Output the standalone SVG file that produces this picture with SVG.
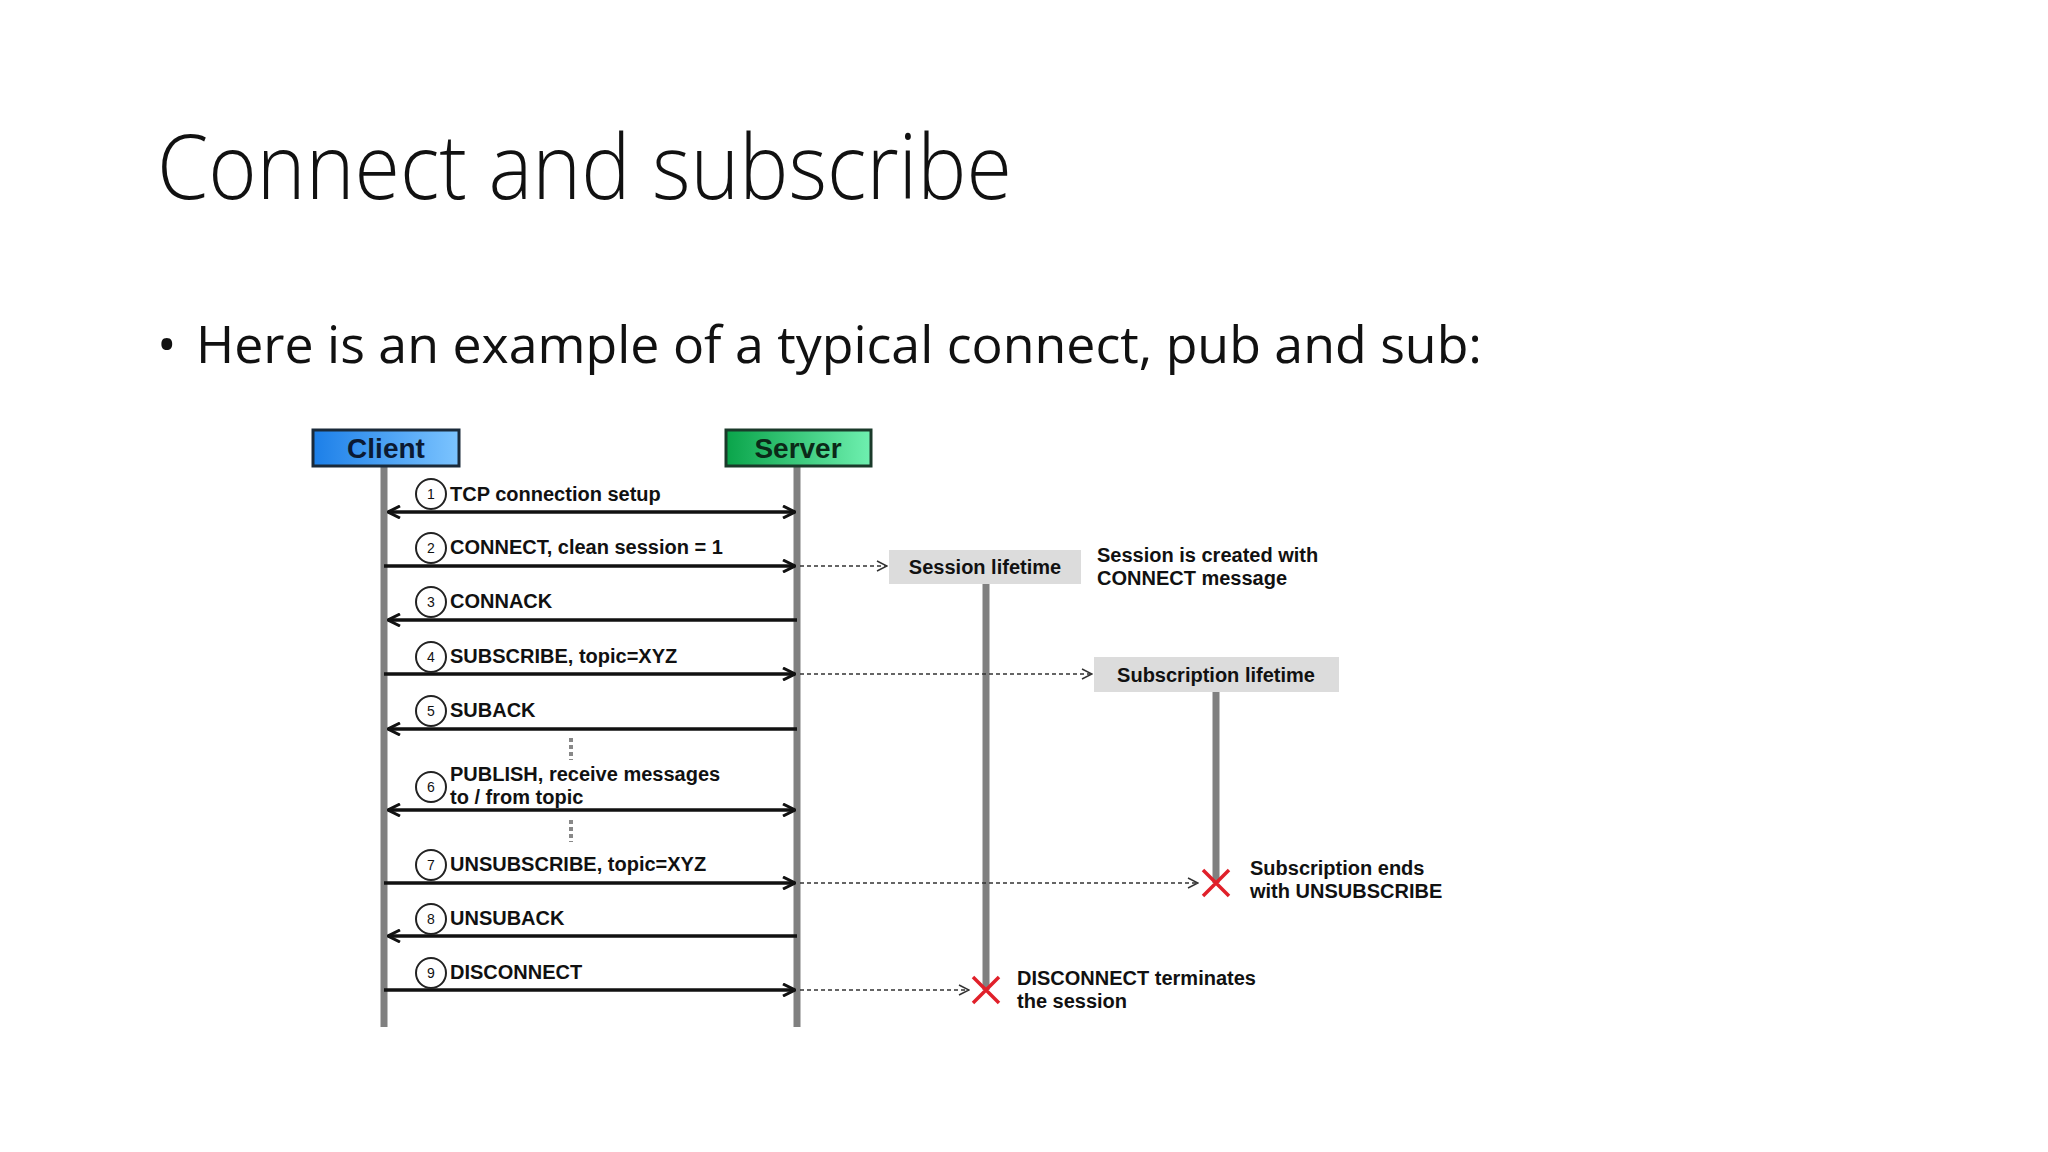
<svg xmlns="http://www.w3.org/2000/svg" width="2048" height="1152" viewBox="0 0 2048 1152">
<style>
.t{font-family:"Liberation Sans",Arial,sans-serif;font-weight:bold;font-size:20px;fill:#111}
.n{font-family:"Liberation Sans",Arial,sans-serif;font-size:14px;fill:#111;text-anchor:middle}
.msg{stroke:#111;stroke-width:3.5;fill:none}
.dash{stroke:#333;stroke-width:1.5;stroke-dasharray:4 3;fill:none}
.life{stroke:#808080;stroke-width:7}
.cir{fill:#fff;stroke:#222;stroke-width:2}
.x{stroke:#e0202a;stroke-width:3.5}
</style>
<defs>
<marker id="a" viewBox="0 0 14 14" refX="13" refY="7" markerWidth="14" markerHeight="14" markerUnits="userSpaceOnUse" orient="auto-start-reverse"><path d="M1,1 L13,7 L1,13" fill="none" stroke="#111" stroke-width="3"/></marker>
<marker id="d" viewBox="0 0 12 12" refX="11" refY="6" markerWidth="12" markerHeight="12" markerUnits="userSpaceOnUse" orient="auto"><path d="M1,1 L11,6 L1,11" fill="none" stroke="#333" stroke-width="1.5"/></marker>
<linearGradient id="gb" x1="0" x2="1"><stop offset="0" stop-color="#1c7fe8"/><stop offset="1" stop-color="#7cc4ff"/></linearGradient>
<linearGradient id="gg" x1="0" x2="1"><stop offset="0" stop-color="#0aa44a"/><stop offset="1" stop-color="#6ff0b0"/></linearGradient>
</defs>
<rect width="2048" height="1152" fill="#fff"/>
<text x="157" y="199" font-family="'Open Sans',sans-serif" font-weight="300" font-size="90" fill="#111" textLength="855" lengthAdjust="spacingAndGlyphs">Connect and subscribe</text>
<text x="157" y="363" font-family="'Open Sans',sans-serif" font-size="52" fill="#111">•</text>
<text x="196" y="363" font-family="'Open Sans',sans-serif" font-size="52" fill="#111" textLength="1286" lengthAdjust="spacingAndGlyphs">Here is an example of a typical connect, pub and sub:</text>

<g id="lifelines">
<line class="life" x1="384" y1="466" x2="384" y2="1027"/>
<line class="life" x1="797" y1="466" x2="797" y2="1027"/>
<line class="life" x1="986" y1="584" x2="986" y2="990"/>
<line class="life" x1="1216" y1="692" x2="1216" y2="883"/>
</g>
<g id="client"><rect x="313" y="430" width="146" height="36" fill="url(#gb)" stroke="#1a2a3a" stroke-width="3"/><text x="386" y="458" text-anchor="middle" font-family="'Liberation Sans',Arial,sans-serif" font-weight="bold" font-size="28" fill="#0b1a33">Client</text></g>
<g id="server"><rect x="726" y="430" width="145" height="36" fill="url(#gg)" stroke="#1a3a2a" stroke-width="3"/><text x="798" y="458" text-anchor="middle" font-family="'Liberation Sans',Arial,sans-serif" font-weight="bold" font-size="28" fill="#0b2a18">Server</text></g>
<g id="session"><rect x="889" y="550" width="192" height="34" fill="#dcdcdc"/><text class="t" x="985" y="574" text-anchor="middle">Session lifetime</text></g>
<g id="subscription"><rect x="1094" y="657" width="245" height="35" fill="#dcdcdc"/><text class="t" x="1216" y="682" text-anchor="middle">Subscription lifetime</text></g>
<g id="ends">
<path class="x" d="M1203,870 L1229,896 M1229,870 L1203,896"/>
<path class="x" d="M973,977 L999,1003 M999,977 L973,1003"/>
</g>
<g id="notes">
<text class="t" x="1097" y="562">Session is created with</text>
<text class="t" x="1097" y="585">CONNECT message</text>
<text class="t" x="1250" y="875">Subscription ends</text>
<text class="t" x="1250" y="898">with UNSUBSCRIBE</text>
<text class="t" x="1017" y="985">DISCONNECT terminates</text>
<text class="t" x="1017" y="1008">the session</text>
</g>
<g id="connectors">
<line class="msg" x1="388" y1="512" x2="795" y2="512" marker-start="url(#a)" marker-end="url(#a)"/>
<line class="msg" x1="384" y1="566" x2="795" y2="566" marker-end="url(#a)"/>
<line class="msg" x1="797" y1="620" x2="388" y2="620" marker-end="url(#a)"/>
<line class="msg" x1="384" y1="674" x2="795" y2="674" marker-end="url(#a)"/>
<line class="msg" x1="797" y1="729" x2="388" y2="729" marker-end="url(#a)"/>
<line class="msg" x1="388" y1="810" x2="795" y2="810" marker-start="url(#a)" marker-end="url(#a)"/>
<line class="msg" x1="384" y1="883" x2="795" y2="883" marker-end="url(#a)"/>
<line class="msg" x1="797" y1="936" x2="388" y2="936" marker-end="url(#a)"/>
<line class="msg" x1="384" y1="990" x2="795" y2="990" marker-end="url(#a)"/>
<line class="dash" x1="800" y1="566" x2="887" y2="566" marker-end="url(#d)"/>
<line class="dash" x1="800" y1="674" x2="1092" y2="674" marker-end="url(#d)"/>
<line class="dash" x1="800" y1="883" x2="1198" y2="883" marker-end="url(#d)"/>
<line class="dash" x1="800" y1="990" x2="969" y2="990" marker-end="url(#d)"/>
<line stroke="#888" stroke-width="4" stroke-dasharray="4 3" x1="571" y1="738" x2="571" y2="760"/>
<line stroke="#888" stroke-width="4" stroke-dasharray="4 3" x1="571" y1="820" x2="571" y2="842"/>
</g>
<g id="labels">
<circle class="cir" cx="431" cy="494" r="15"/><text class="n" x="431" y="499">1</text><text class="t" x="450" y="501">TCP connection setup</text>
<circle class="cir" cx="431" cy="548" r="15"/><text class="n" x="431" y="553">2</text><text class="t" x="450" y="554">CONNECT, clean session = 1</text>
<circle class="cir" cx="431" cy="602" r="15"/><text class="n" x="431" y="607">3</text><text class="t" x="450" y="608">CONNACK</text>
<circle class="cir" cx="431" cy="657" r="15"/><text class="n" x="431" y="662">4</text><text class="t" x="450" y="663">SUBSCRIBE, topic=XYZ</text>
<circle class="cir" cx="431" cy="711" r="15"/><text class="n" x="431" y="716">5</text><text class="t" x="450" y="717">SUBACK</text>
<circle class="cir" cx="431" cy="787" r="15"/><text class="n" x="431" y="792">6</text><text class="t" x="450" y="781">PUBLISH, receive messages</text><text class="t" x="450" y="804">to / from topic</text>
<circle class="cir" cx="431" cy="865" r="15"/><text class="n" x="431" y="870">7</text><text class="t" x="450" y="871">UNSUBSCRIBE, topic=XYZ</text>
<circle class="cir" cx="431" cy="919" r="15"/><text class="n" x="431" y="924">8</text><text class="t" x="450" y="925">UNSUBACK</text>
<circle class="cir" cx="431" cy="973" r="15"/><text class="n" x="431" y="978">9</text><text class="t" x="450" y="979">DISCONNECT</text>
</g>
</svg>
